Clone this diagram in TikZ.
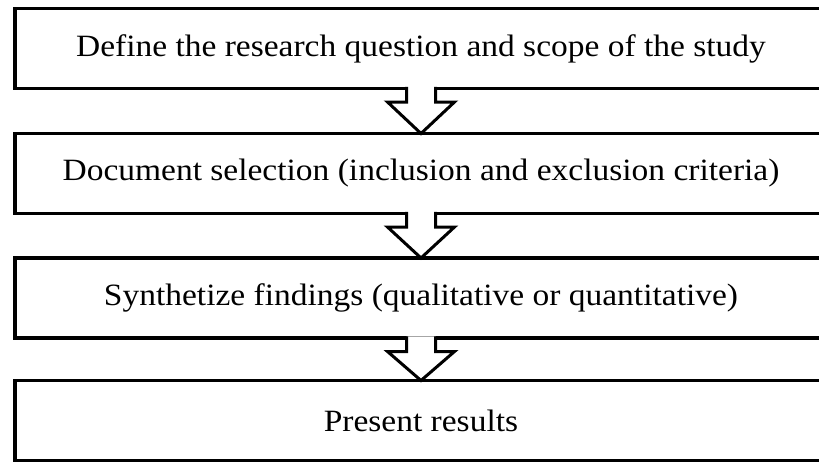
\documentclass[tikz,border=0pt]{standalone}
\usepackage{fontspec}
\setmainfont[FakeStretch = 1.08]{Liberation Serif}
\usetikzlibrary{calc}

\begin{document}
\begin{tikzpicture}[x = 1pt, y = -1pt,
 stepbox/.style = {draw, line width = 3.5pt, minimum width = 812pt, minimum height = 80pt,
 inner sep = 0pt, outer sep = 0pt, font = \fontsize{31}{34}\selectfont},
 blockarrow/.style = {draw, fill = white, line width = 3pt, line join = miter}]
 \useasboundingbox (0,0) rectangle (819,464);
 \node[stepbox] (S1) at (421, 48.5) {Define the research question and scope of the study};
 \node[stepbox] (S2) at (421, 173.5) {Document selection (inclusion and exclusion criteria)};
 \node[stepbox] (S3) at (421, 298) {Synthetize findings (qualitative or quantitative)};
 \node[stepbox] (S4) at (421, 420.5) {Present results};
 \foreach \a/\b in {S1/S2, S2/S3, S3/S4}
 \path[blockarrow]
 ($(\a.south)+(-14.5,-1.75)$)
 -- ($(\a.south)+(-14.5,13.5)$)
 -- ($(\a.south)+(-33.5,13.5)$)
 -- (\b.north)
 -- ($(\a.south)+(33.5,13.5)$)
 -- ($(\a.south)+(14.5,13.5)$)
 -- ($(\a.south)+(14.5,-1.75)$);
\end{tikzpicture}
\end{document}
